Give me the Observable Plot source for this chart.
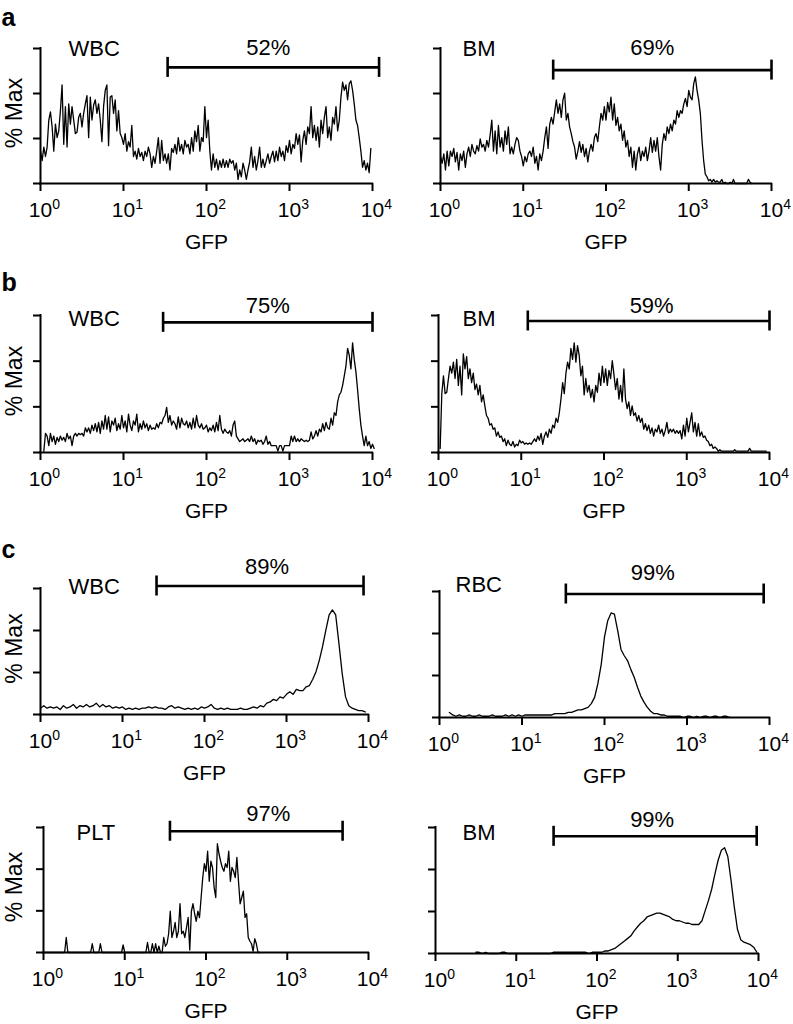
<!DOCTYPE html>
<html><head><meta charset="utf-8">
<script src="https://cdn.jsdelivr.net/npm/d3@7"></script>
<script src="https://cdn.jsdelivr.net/npm/@observablehq/plot@0.6"></script>
<style>
html,body{margin:0;padding:0;background:#fff;}
#fig{position:relative;width:793px;height:1024px;overflow:hidden;}
#fig svg{position:absolute;overflow:visible;}
</style></head><body><div id="fig"></div>
<script>
// ---------- data ----------
const xTicks = [1, 10, 100, 1000, 10000];
const yTicks = [0, 100 / 3, 200 / 3, 100];
const panelNames = ["WBC", "BM", "WBC", "BM", "WBC", "RBC", "PLT", "BM"];
const gatePercents = ["52%", "69%", "75%", "59%", "89%", "99%", "97%", "99%"];
const gateLow = [34, 23, 30, 12, 26, 34, 36, 29];
const gateHigh = [12000, 10000, 10000, 10000, 8700, 8500, 4800, 9500];
// log10(GFP) of the first channel and channel width (in decades) of each histogram
const binStart = [0, 0, 0.04, 0.02, 0, 0.12, 0, 0.5];
const binStep = [0.02, 0.02, 0.02, 0.02, 0.04, 0.04, 0.02, 0.04];

// % Max per channel (top tick = 100)
const wbcA = [24,17,27,20,27,47,53,42,24,44, 34,39,54,73,29,57,27,59,44,57,
  47,37,38,49,52,42,52,59,65,34, 64,47,58,62,52,59,47,31,57,69,
  73,28,64,65,52,62,39,54,37,34, 29,37,24,31,27,43,20,24,18,26,
  20,23,17,24,20,27,22,12,20,15, 24,34,15,32,17,22,15,22,10,26,
  23,29,22,34,24,29,22,32,27,29, 22,34,24,39,31,43,24,34,31,57,
  34,47,24,10,22,12,18,10,17,12, 18,12,17,12,18,15,17,10,15,3,
  10,5,15,10,3,10,16,27,12,20, 10,17,27,12,18,12,17,22,15,20,
  24,16,24,17,27,20,24,17,28,23, 32,22,29,26,37,29,36,16,32,39,
  29,42,37,57,34,43,32,42,27,47, 37,49,57,34,42,32,49,44,57,39,
  47,64,75,69,73,62,74,76,69,59, 47,43,34,24,12,17,10,15,8,26];
const bmA = [20,15,22,10,24,13,24,20,26,16, 23,10,22,17,24,12,22,27,20,29,
  24,22,28,24,33,27,29,24,32,27, 36,47,24,39,22,43,27,34,24,39,
  29,42,22,27,22,29,34,32,24,20, 13,20,16,22,24,20,27,15,20,10,
  22,17,24,34,42,26,44,49,44,53, 62,52,59,49,62,67,47,52,42,37,
  31,27,18,24,31,23,29,20,26,16, 24,29,24,34,37,31,42,52,47,57,
  47,60,53,64,47,59,43,49,39,44, 32,39,27,32,20,27,12,24,10,22,
  27,17,24,20,27,17,24,34,23,32, 24,34,20,10,29,37,32,42,37,44,
  39,47,44,54,49,54,52,59,63,57, 69,64,62,74,79,69,62,52,32,17,
  7,5,2,3,1,3,1,2,1,1, 3,0,1,0,0,1,0,3,0,0, 0,0,0,0,0,0,3,1,0];
const wbcB = [1,14,12,5,14,8,12,6,11,8, 12,9,11,8,14,10,12,5,12,14,
  12,14,13,14,12,18,15,18,14,20, 16,21,15,22,14,23,17,27,17,26,
  15,23,20,25,16,21,17,27,18,23, 15,28,20,16,23,20,28,15,21,17,
  23,18,21,16,20,17,18,17,21,18, 22,21,25,27,33,22,27,20,23,21,
  17,26,18,25,21,20,23,18,22,17, 25,18,27,20,18,21,17,18,20,15,
  18,16,20,15,22,16,27,17,14,17, 15,14,16,12,20,23,12,10,8,9,
  10,8,9,10,8,12,8,10,6,9, 8,9,6,8,12,6,8,5,5,5,
  5,1,5,5,1,5,5,5,5,12, 8,12,8,10,8,10,9,8,9,8,
  9,15,10,12,16,12,17,15,21,16, 22,18,17,25,20,29,27,37,42,44,
  49,56,63,76,71,61,80,68,59,46, 32,20,12,5,12,5,8,3,6,3];
const bmB = [3,43,56,43,44,54,63,58,66,54, 68,49,63,42,72,61,70,54,61,51,
  58,46,50,42,49,37,42,34,27,25, 20,21,17,18,12,15,11,12,8,10,
  5,9,6,5,8,4,6,5,9,7, 8,6,7,6,7,6,8,10,8,12,
  9,14,6,12,15,11,17,14,20,18, 25,22,29,39,51,43,58,66,61,76,
  68,80,66,78,71,56,63,42,54,44, 49,40,46,37,49,44,58,49,63,51,
  61,49,60,54,67,57,46,54,39,49, 37,61,39,32,37,27,34,27,29,23,
  27,22,25,17,21,16,20,14,18,12, 17,15,20,14,17,12,16,22,14,17,
  15,17,14,16,14,16,10,20,12,25, 15,22,29,15,22,12,21,12,15,11,
  12,9,8,5,6,3,4,3,1,2, 1,1,1,1,1,1,1,1,2,1,
  1,1,1,1,1,1,1,3,1,1, 1,1,1,1,1,1,1,1];
const wbcC = [5,7,5,6,5,6,4,7,5,6, 8,5,7,6,8,6,7,9,6,8, 6,7,5,6,5,6,4,5,4,5,
  4,5,5,6,5,6,5,5,4,6, 7,5,6,5,4,5,4,5,4,6, 5,6,8,5,4,5,4,5,4,4,
  4,5,4,4,5,6,5,7,6,9, 10,12,11,14,13,16,18,16,20,19, 19,22,23,28,34,43,54,67,79,83,
  79,56,32,14,7,5,4,3,3,2];
const rbcC = [4,2,1,2,1,1,2,1,1,2, 1,1,1,2,1,1,1,2,1,2, 1,2,1,2,2,2,2,2,2,2,
  2,2,3,3,3,3,4,4,5,6, 6,7,8,11,16,27,42,64,77,83, 82,69,54,49,45,38,32,24,17,12,
  8,5,3,3,2,2,1,1,1,1, 1,0,1,1,0,1,0,1,1,0, 1,1,0,1,1,0];
const pltC = [0,0,0,0,0,0,0,0,0,0, 0,0,0,0,12,0,0,0,0,0, 0,0,0,0,0,0,0,0,0,0,
  7,0,0,0,0,7,0,0,0,0, 0,0,0,0,0,0,0,0,0,6, 0,0,0,0,0,0,0,0,0,0,
  0,0,0,0,8,0,0,7,0,7, 0,5,0,0,12,5,7,15,33,12, 17,24,12,17,39,15,17,12,20,28,
  2,33,39,31,25,33,28,44,60,71, 65,81,57,73,68,52,44,87,79,73, 68,65,71,68,81,57,68,65,60,76,
  57,39,44,49,28,31,12,9,7,1, 11,7,0,0];
const bmC = [1,1,0,1,0,0,0,0,1,1, 0,0,0,0,0,0,0,0,0,0, 0,0,0,0,1,1,1,1,1,1,
  1,1,1,1,1,0,1,1,1,1, 2,2,3,4,6,8,10,12,14,18, 21,24,26,29,30,31,32,32,31,30,
  29,27,26,26,25,24,24,23,23,23, 26,34,42,51,63,74,82,84,77,58, 37,19,11,9,8,7,5,1];
const series = [wbcA, bmA, wbcB, bmB, wbcC, rbcC, pltC, bmC];

// ---------- layout (page pixels) ----------
const layout = [
  {left:0,   top:0,   w:396, h:262, ml:40, mr:24, mt:48, mb:79, letter:"a", letterDy:-23, yLabel:true, nameDx:28, nameDy:0,  gateY:86,  pctDx:-5,  pctDy:-19},
  {left:396, top:0,   w:397, h:262, ml:44, mr:22, mt:48, mb:79, nameDx:22, nameDy:0,  gateY:84,  pctDx:-10, pctDy:-22},
  {left:0,   top:262, w:396, h:260, ml:40, mr:24, mt:53, mb:70, letter:"b", letterDy:-25, yLabel:true, nameDx:28, nameDy:3,  gateY:95,  pctDx:0,   pctDy:-16},
  {left:396, top:262, w:397, h:260, ml:42, mr:24, mt:53, mb:70, nameDx:24, nameDy:3,  gateY:96,  pctDx:3,   pctDy:-15},
  {left:0,   top:522, w:396, h:250, ml:40, mr:28, mt:66, mb:58, letter:"c", letterDy:-31, yLabel:true, nameDx:28, nameDy:-2, gateY:102, pctDx:7,   pctDy:-19},
  {left:396, top:522, w:397, h:250, ml:43, mr:24, mt:69, mb:55, nameDx:16, nameDy:-7, gateY:98,  pctDx:-12, pctDy:-21},
  {left:0,   top:772, w:396, h:252, ml:43, mr:28, mt:55, mb:72, yLabel:true, nameDx:33, nameDy:5,  gateY:97,  pctDx:12,  pctDy:-17},
  {left:396, top:772, w:397, h:252, ml:39, mr:35, mt:55, mb:71, nameDx:27, nameDy:5,  gateY:93,  pctDx:-3,  pctDy:-16}
];

const FONT = '"Liberation Sans", Arial, Helvetica, sans-serif';
const fig = document.getElementById("fig");
const NS = "http://www.w3.org/2000/svg";

layout.forEach((L, i) => {
  const vals = series[i];
  const data = vals.map((v, j) => ({gfp: Math.pow(10, binStart[i] + j * binStep[i]), pct: v}));
  const plotH = L.h - L.mt - L.mb;
  const cap = 10 / plotH * 100;
  const lo = gateLow[i], hi = gateHigh[i];
  const gy = L.gateY;
  const marks = [
    Plot.line(data, {x: "gfp", y: "pct", stroke: "#000", strokeWidth: 1.3}),
    Plot.ruleY([0], {stroke: "#000", strokeWidth: 2, strokeLinecap: "square"}),
    Plot.ruleX([1], {stroke: "#000", strokeWidth: 2, strokeLinecap: "square"}),
    Plot.axisX({ticks: xTicks, tickSize: 8, tickPadding: 11, strokeWidth: 2, fontSize: 21,
      tickFormat: d => "10|" + Math.round(Math.log10(d)), label: null}),
    Plot.axisY({ticks: yTicks, tickSize: 7, strokeWidth: 2, tickFormat: () => "", label: null}),
    Plot.ruleY([{y: gy, x1: lo, x2: hi}], {y: "y", x1: "x1", x2: "x2", stroke: "#000", strokeWidth: 2.6}),
    Plot.ruleX([{x: lo}, {x: hi}], {x: "x", y1: () => gy - cap, y2: () => gy + cap, stroke: "#000", strokeWidth: 2.6}),
    Plot.text([{x: Math.sqrt(lo * hi), y: gy, t: gatePercents[i]}], {x: "x", y: "y", text: "t",
      dx: L.pctDx, dy: L.pctDy, fontSize: 22, lineAnchor: "middle", fill: "#000"}),
    Plot.text([panelNames[i]], {text: d => d, frameAnchor: "top-left", dx: L.nameDx, dy: L.nameDy,
      textAnchor: "start", lineAnchor: "middle", fontSize: 22, fill: "#000"}),
    Plot.text(["GFP"], {text: d => d, frameAnchor: "bottom", dy: 59, lineAnchor: "middle", fontSize: 21, fill: "#000"})
  ];
  if (L.yLabel) marks.push(Plot.text(["% Max"], {text: d => d, frameAnchor: "left", rotate: -90,
    dx: -(L.ml - 14), dy: -3, textAnchor: "middle", lineAnchor: "middle", fontSize: 23, fill: "#000"}));
  if (L.letter) marks.push(Plot.text([L.letter], {text: d => d, frameAnchor: "top-left", dx: -L.ml + 1,
    dy: L.letterDy, textAnchor: "start", lineAnchor: "bottom", fontSize: 25, fontWeight: "bold", fill: "#000"}));

  const svg = Plot.plot({
    width: L.w, height: L.h,
    marginLeft: L.ml, marginRight: L.mr, marginTop: L.mt, marginBottom: L.mb,
    x: {type: "log", domain: [1, 10000]},
    y: {domain: [0, 100]},
    style: {fontFamily: FONT, fontSize: "20px", color: "#000", background: "transparent", overflow: "visible"},
    marks
  });
  svg.style.left = L.left + "px";
  svg.style.top = L.top + "px";
  fig.appendChild(svg);

  // superscript exponents on the decade labels
  svg.querySelectorAll("text").forEach(t => {
    const m = /^10\|(\d)$/.exec(t.textContent);
    if (!m) return;
    while (t.firstChild) t.removeChild(t.firstChild);
    const a = document.createElementNS(NS, "tspan");
    a.textContent = "10";
    const b = document.createElementNS(NS, "tspan");
    b.textContent = m[1];
    b.setAttribute("dy", "-8");
    b.setAttribute("font-size", "14px");
    t.appendChild(a); t.appendChild(b);
    t.setAttribute("text-anchor", "start");
    t.setAttribute("dx", "-11.7");
  });
});
</script></body></html>
